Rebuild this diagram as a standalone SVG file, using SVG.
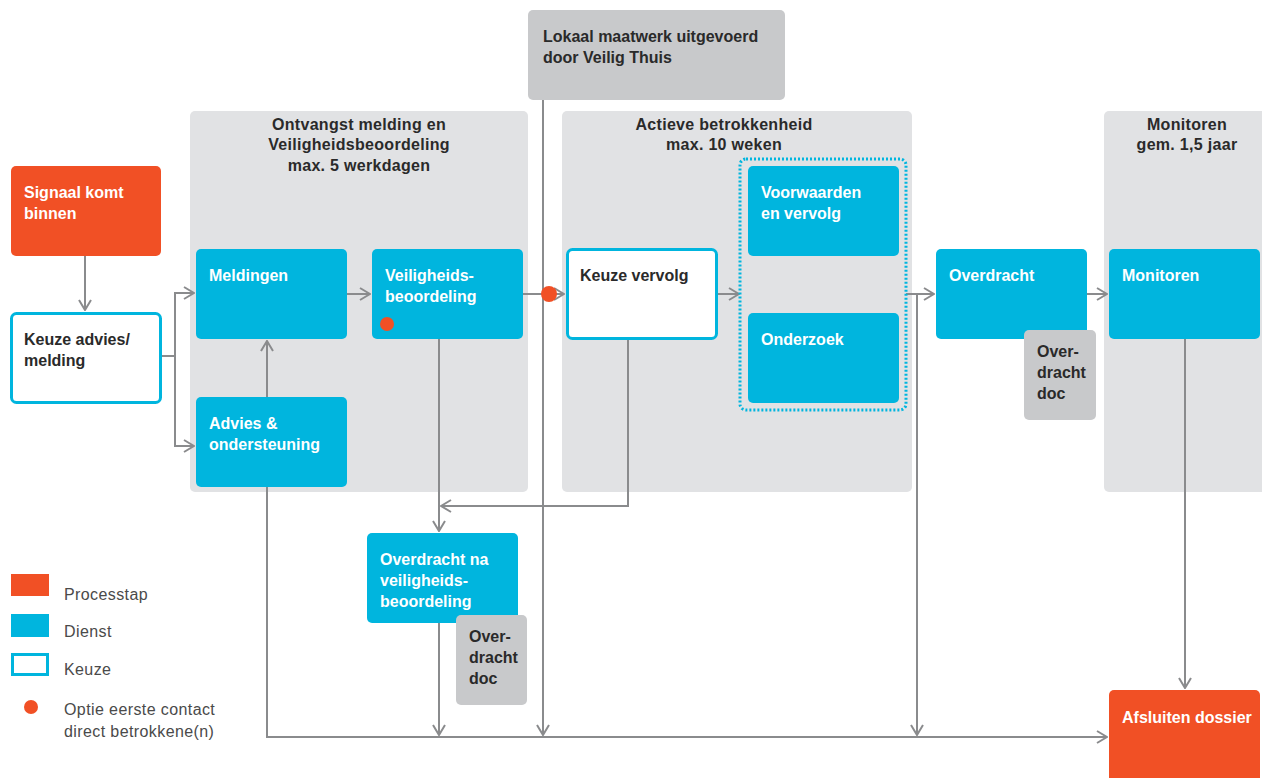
<svg xmlns="http://www.w3.org/2000/svg" width="1262" height="778" viewBox="0 0 1262 778">
<style>
.panel{fill:#e1e2e4}
.proc{fill:#f15025}
.dienst{fill:#00b5de}
.keuze{fill:#ffffff;stroke:#00b5de;stroke-width:3}
.grey{fill:#c8c9cb}
.t{font-family:"Liberation Sans",Arial,sans-serif;font-weight:bold;font-size:16px}
.w{fill:#ffffff}
.d{fill:#2a2a2a}
.title{font-family:"Liberation Sans",Arial,sans-serif;font-weight:bold;font-size:16px;fill:#2a2a2a;text-anchor:middle;letter-spacing:0.3px}
.leg{font-family:"Liberation Sans",Arial,sans-serif;font-size:16px;fill:#4a4a4a;letter-spacing:0.4px}
.c{fill:none;stroke:#8a8b8d;stroke-width:2}
.dot{fill:#f15025}
</style>
<defs>
<marker id="a" viewBox="0 0 12 14" refX="11" refY="7" markerWidth="12" markerHeight="14" markerUnits="userSpaceOnUse" orient="auto">
<path d="M1,1 L11,7 L1,13" fill="none" stroke="#8a8b8d" stroke-width="2"/>
</marker>
</defs>
<g id="panels">
<rect class="panel" x="190" y="111" width="338" height="381" rx="5"/>
<rect class="panel" x="562" y="111" width="350" height="381" rx="5"/>
<rect class="panel" x="1104" y="111" width="170" height="381" rx="5"/>
<text class="title" x="359" y="130">Ontvangst melding en</text>
<text class="title" x="359" y="150">Veiligheidsbeoordeling</text>
<text class="title" x="359" y="171">max. 5 werkdagen</text>
<text class="title" x="724" y="130">Actieve betrokkenheid</text>
<text class="title" x="724" y="150">max. 10 weken</text>
<text class="title" x="1187" y="130">Monitoren</text>
<text class="title" x="1187" y="150">gem. 1,5 jaar</text>
</g>
<g id="connectors">
<path class="c" d="M85,256 V310" marker-end="url(#a)"/>
<path class="c" d="M162,356 H175 V293 H194" marker-end="url(#a)"/>
<path class="c" d="M175,356 V446 H194" marker-end="url(#a)"/>
<path class="c" d="M267,397 V341" marker-end="url(#a)"/>
<path class="c" d="M347,294 H370" marker-end="url(#a)"/>
<path class="c" d="M523,294 H564" marker-end="url(#a)"/>
<path class="c" d="M543,100 V735" marker-end="url(#a)"/>
<path class="c" d="M718,294 H739" marker-end="url(#a)"/>
<path class="c" d="M906,294 H934" marker-end="url(#a)"/>
<path class="c" d="M917,294 V735" marker-end="url(#a)"/>
<path class="c" d="M1087,294 H1107" marker-end="url(#a)"/>
<path class="c" d="M1185,339 V688" marker-end="url(#a)"/>
<path class="c" d="M439,339 V531" marker-end="url(#a)"/>
<path class="c" d="M628,340 V506 H441" marker-end="url(#a)"/>
<path class="c" d="M267,487 V737 H1107" marker-end="url(#a)"/>
<path class="c" d="M439,623 V735" marker-end="url(#a)"/>
<circle class="dot" cx="549" cy="294" r="8"/>
</g>
<g id="lokaal">
<rect class="grey" x="528" y="10" width="257" height="90" rx="5"/>
<text class="t d" x="543" y="42">Lokaal maatwerk uitgevoerd</text>
<text class="t d" x="543" y="63">door Veilig Thuis</text>
</g>
<g id="signaal">
<rect class="proc" x="11" y="166" width="150" height="90" rx="5"/>
<text class="t w" x="24" y="198">Signaal komt</text>
<text class="t w" x="24" y="219">binnen</text>
</g>
<g id="keuze-advies">
<rect class="keuze" x="11.5" y="313.5" width="149" height="89" rx="5"/>
<text class="t d" x="24" y="345">Keuze advies/</text>
<text class="t d" x="24" y="366">melding</text>
</g>
<g id="meldingen">
<rect class="dienst" x="196" y="249" width="151" height="90" rx="5"/>
<text class="t w" x="209" y="281">Meldingen</text>
</g>
<g id="advies">
<rect class="dienst" x="196" y="397" width="151" height="90" rx="5"/>
<text class="t w" x="209" y="429">Advies &amp;</text>
<text class="t w" x="209" y="450">ondersteuning</text>
</g>
<g id="veiligheid">
<rect class="dienst" x="372" y="249" width="151" height="90" rx="5"/>
<text class="t w" x="385" y="281">Veiligheids-</text>
<text class="t w" x="385" y="302">beoordeling</text>
<circle class="dot" cx="387" cy="324" r="7"/>
</g>
<g id="keuze-vervolg">
<rect class="keuze" x="567.5" y="249.5" width="149" height="89" rx="5"/>
<text class="t d" x="580" y="281">Keuze vervolg</text>
</g>
<g id="groep">
<rect x="740" y="159" width="166" height="251" rx="6" fill="none" stroke="#00b5de" stroke-width="3" stroke-dasharray="2,2"/>
</g>
<g id="voorwaarden">
<rect class="dienst" x="748" y="166" width="151" height="90" rx="5"/>
<text class="t w" x="761" y="198">Voorwaarden</text>
<text class="t w" x="761" y="219">en vervolg</text>
</g>
<g id="onderzoek">
<rect class="dienst" x="748" y="313" width="151" height="90" rx="5"/>
<text class="t w" x="761" y="345">Onderzoek</text>
</g>
<g id="overdracht">
<rect class="dienst" x="936" y="249" width="151" height="90" rx="5"/>
<text class="t w" x="949" y="281">Overdracht</text>
</g>
<g id="overdracht-doc-1">
<rect class="grey" x="1024" y="330" width="72" height="90" rx="5"/>
<text class="t d" x="1037" y="357">Over-</text>
<text class="t d" x="1037" y="378">dracht</text>
<text class="t d" x="1037" y="399">doc</text>
</g>
<g id="monitoren">
<rect class="dienst" x="1109" y="249" width="151" height="90" rx="5"/>
<text class="t w" x="1122" y="281">Monitoren</text>
</g>
<g id="afsluiten">
<rect class="proc" x="1109" y="690" width="151" height="95" rx="5"/>
<text class="t w" x="1122" y="723">Afsluiten dossier</text>
</g>
<g id="overdracht-na">
<rect class="dienst" x="367" y="533" width="151" height="90" rx="5"/>
<text class="t w" x="380" y="565">Overdracht na</text>
<text class="t w" x="380" y="586">veiligheids-</text>
<text class="t w" x="380" y="607">beoordeling</text>
</g>
<g id="overdracht-doc-2">
<rect class="grey" x="456" y="615" width="71" height="90" rx="5"/>
<text class="t d" x="469" y="642">Over-</text>
<text class="t d" x="469" y="663">dracht</text>
<text class="t d" x="469" y="684">doc</text>
</g>
<g id="legend">
<rect class="proc" x="11" y="574" width="38" height="22"/>
<text class="leg" x="64" y="600">Processtap</text>
<rect class="dienst" x="11" y="614" width="38" height="23"/>
<text class="leg" x="64" y="637">Dienst</text>
<rect x="12.5" y="654.5" width="35" height="20" fill="#fff" stroke="#00b5de" stroke-width="3"/>
<text class="leg" x="64" y="675">Keuze</text>
<circle class="dot" cx="31" cy="707" r="7"/>
<text class="leg" x="64" y="715">Optie eerste contact</text>
<text class="leg" x="64" y="737">direct betrokkene(n)</text>
</g>
</svg>
